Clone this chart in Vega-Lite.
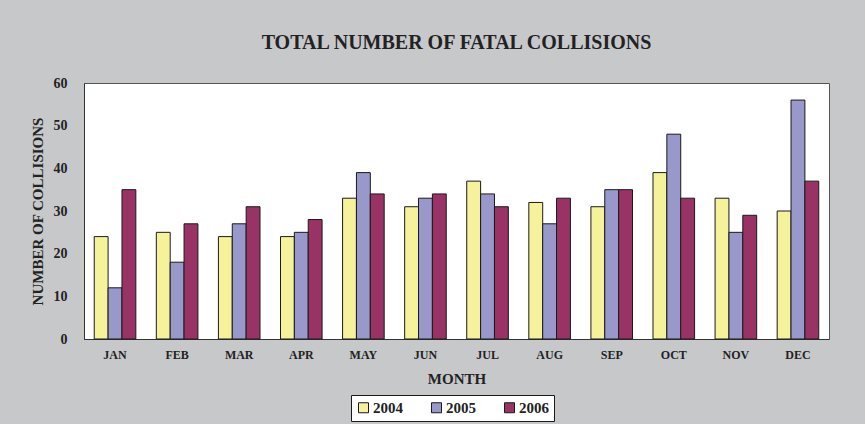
{
  "$schema": "https://vega.github.io/schema/vega-lite/v6.json",
  "autosize": "none",
  "width": 745,
  "height": 256,
  "padding": {"left": 84, "top": 83, "right": 36, "bottom": 85},
  "background": "#C7C8CA",
  "title": {
    "text": "TOTAL NUMBER OF FATAL COLLISIONS",
    "font": "Liberation Serif",
    "fontSize": 20,
    "fontWeight": "bold",
    "color": "#222222",
    "anchor": "middle",
    "offset": 23
  },
  "data": {
    "values": [
      {"month": "JAN", "year": "2004", "value": 24},
      {"month": "JAN", "year": "2005", "value": 12},
      {"month": "JAN", "year": "2006", "value": 35},
      {"month": "FEB", "year": "2004", "value": 25},
      {"month": "FEB", "year": "2005", "value": 18},
      {"month": "FEB", "year": "2006", "value": 27},
      {"month": "MAR", "year": "2004", "value": 24},
      {"month": "MAR", "year": "2005", "value": 27},
      {"month": "MAR", "year": "2006", "value": 31},
      {"month": "APR", "year": "2004", "value": 24},
      {"month": "APR", "year": "2005", "value": 25},
      {"month": "APR", "year": "2006", "value": 28},
      {"month": "MAY", "year": "2004", "value": 33},
      {"month": "MAY", "year": "2005", "value": 39},
      {"month": "MAY", "year": "2006", "value": 34},
      {"month": "JUN", "year": "2004", "value": 31},
      {"month": "JUN", "year": "2005", "value": 33},
      {"month": "JUN", "year": "2006", "value": 34},
      {"month": "JUL", "year": "2004", "value": 37},
      {"month": "JUL", "year": "2005", "value": 34},
      {"month": "JUL", "year": "2006", "value": 31},
      {"month": "AUG", "year": "2004", "value": 32},
      {"month": "AUG", "year": "2005", "value": 27},
      {"month": "AUG", "year": "2006", "value": 33},
      {"month": "SEP", "year": "2004", "value": 31},
      {"month": "SEP", "year": "2005", "value": 35},
      {"month": "SEP", "year": "2006", "value": 35},
      {"month": "OCT", "year": "2004", "value": 39},
      {"month": "OCT", "year": "2005", "value": 48},
      {"month": "OCT", "year": "2006", "value": 33},
      {"month": "NOV", "year": "2004", "value": 33},
      {"month": "NOV", "year": "2005", "value": 25},
      {"month": "NOV", "year": "2006", "value": 29},
      {"month": "DEC", "year": "2004", "value": 30},
      {"month": "DEC", "year": "2005", "value": 56},
      {"month": "DEC", "year": "2006", "value": 37}
    ]
  },
  "mark": {"type": "bar", "stroke": "#1a1a1a", "strokeWidth": 1},
  "encoding": {
    "x": {
      "field": "month",
      "type": "nominal",
      "sort": ["JAN","FEB","MAR","APR","MAY","JUN","JUL","AUG","SEP","OCT","NOV","DEC"],
      "scale": {"paddingInner": 0.33, "paddingOuter": 0.165},
      "axis": {
        "title": "MONTH",
        "labelAngle": 0,
        "ticks": false,
        "labelPadding": 10,
        "labelFont": "Liberation Serif",
        "labelFontSize": 12,
        "labelFontWeight": "bold",
        "labelColor": "#222222",
        "titleFont": "Liberation Serif",
        "titleFontSize": 15,
        "titleFontWeight": "bold",
        "titleColor": "#222222",
        "titlePadding": 11,
        "domainColor": "#333333"
      }
    },
    "xOffset": {"field": "year", "type": "nominal"},
    "y": {
      "field": "value",
      "type": "quantitative",
      "scale": {"domain": [0, 60]},
      "axis": {
        "title": "NUMBER OF COLLISIONS",
        "values": [0, 10, 20, 30, 40, 50, 60],
        "grid": false,
        "ticks": false,
        "labelPadding": 17,
        "labelFont": "Liberation Serif",
        "labelFontSize": 14,
        "labelFontWeight": "bold",
        "labelColor": "#222222",
        "titleFont": "Liberation Serif",
        "titleFontSize": 15,
        "titleFontWeight": "bold",
        "titleColor": "#222222",
        "titlePadding": 8,
        "domainColor": "#333333"
      }
    },
    "color": {
      "field": "year",
      "type": "nominal",
      "scale": {"domain": ["2004", "2005", "2006"], "range": ["#F6F29B", "#9898CA", "#993366"]},
      "legend": {
        "title": null,
        "orient": "none",
        "direction": "horizontal",
        "legendX": 267,
        "legendY": 312,
        "symbolType": "square",
        "symbolSize": 100,
        "symbolStrokeColor": "#1a1a1a",
        "symbolStrokeWidth": 1,
        "symbolOpacity": 1,
        "labelFont": "Liberation Serif",
        "labelFontSize": 15,
        "labelFontWeight": "bold",
        "labelColor": "#222222",
        "labelOffset": 2,
        "columnPadding": 26,
        "fillColor": "white",
        "strokeColor": "#1a1a1a",
        "padding": 5
      }
    }
  },
  "config": {
    "view": {"fill": "white", "stroke": "#555555", "strokeWidth": 1}
  }
}
